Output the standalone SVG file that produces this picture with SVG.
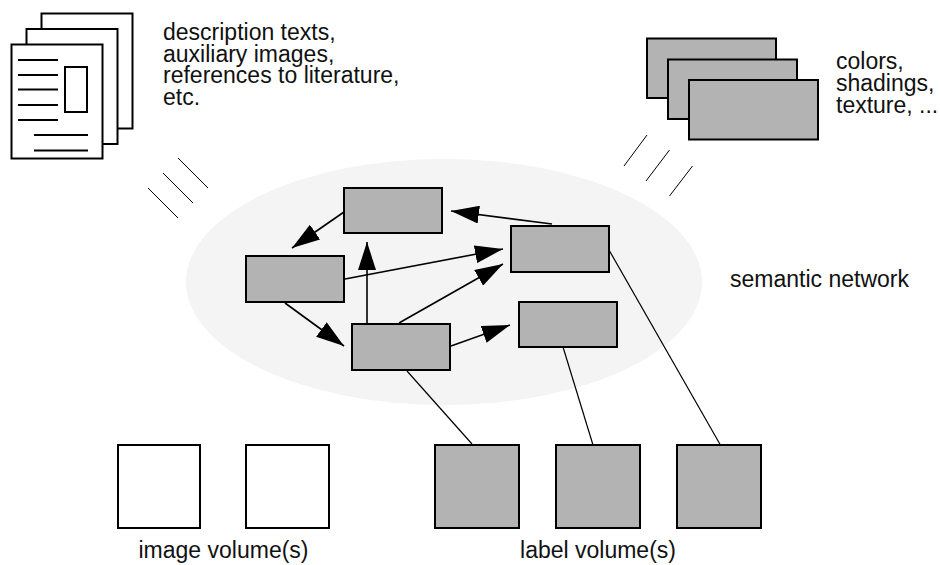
<svg xmlns="http://www.w3.org/2000/svg" width="940" height="565" viewBox="0 0 940 565">
<style>
  .txt { font-family: "Liberation Sans", Arial, sans-serif; font-size: 23px; fill: #111; }
  .page { fill: #fff; stroke: #000; stroke-width: 2; }
  .node { fill: #b3b3b3; stroke: #000; stroke-width: 2; }
  .vol { fill: #fff; stroke: #000; stroke-width: 2; }
  .ln { stroke: #000; stroke-width: 2; fill: none; }
  .hatch { stroke: #000; stroke-width: 1; fill: none; }
  .arrow { stroke: #000; stroke-width: 1.6; fill: none; marker-end: url(#ah); }
  .link { stroke: #000; stroke-width: 1.2; fill: none; }
</style>
<defs>
  <marker id="ah" markerUnits="userSpaceOnUse" markerWidth="28" markerHeight="18" refX="28" refY="9" orient="auto">
    <path d="M0,0 L28,9 L0,18 z" fill="#000"/>
  </marker>
</defs>
<rect width="940" height="565" fill="#fff"/>

<g id="documents">
  <rect class="page" x="41.5" y="13.5" width="91" height="115"/>
  <rect class="page" x="26.5" y="29" width="91" height="115"/>
  <rect class="page" x="11.5" y="44.5" width="91" height="114"/>
  <path class="ln" d="M18,60 H58 M18,75 H58 M18,89.5 H58 M18,105 H58 M18,120 H58 M34,135 H88 M34,150.5 H88"/>
  <rect x="65" y="67" width="22" height="45" fill="none" stroke="#000" stroke-width="2"/>
  <text class="txt" x="163" y="40">description texts,</text>
  <text class="txt" x="163" y="61.5">auxiliary images,</text>
  <text class="txt" x="163" y="83">references to literature,</text>
  <text class="txt" x="163" y="104.5">etc.</text>
  <path class="hatch" d="M178,158 L208,188 M163,173 L193,203 M148,188 L178,218"/>
</g>

<g id="attributes">
  <rect class="node" x="647" y="38.5" width="129" height="59.5"/>
  <rect class="node" x="668" y="59.5" width="129" height="59.5"/>
  <rect class="node" x="689" y="80" width="129" height="59.5"/>
  <text class="txt" x="836" y="68.5">colors,</text>
  <text class="txt" x="836" y="90.5">shadings,</text>
  <text class="txt" x="836" y="112.5">texture, ...</text>
  <path class="hatch" stroke-width="1.3" d="M647,135 L624,166 M669.5,150 L646,181 M692.5,166 L669.5,196"/>
</g>

<g id="semantic-network">
  <ellipse cx="444" cy="282" rx="258" ry="123" fill="#f4f4f4"/>
  <text class="txt" x="730" y="287">semantic network</text>
</g>

<g id="connectors">
  <line class="arrow" x1="344" y1="212" x2="292" y2="248"/>
  <line class="arrow" x1="552" y1="224" x2="451" y2="211"/>
  <line class="arrow" x1="345" y1="279" x2="503" y2="249"/>
  <line class="arrow" stroke-width="2" x1="367" y1="324" x2="367" y2="242"/>
  <line class="arrow" x1="399" y1="323" x2="503" y2="264"/>
  <line class="arrow" x1="285" y1="303" x2="344" y2="346"/>
  <line class="arrow" x1="451" y1="346" x2="510" y2="325"/>
  <line class="link" x1="407" y1="371" x2="472" y2="444"/>
  <line class="link" x1="563" y1="347" x2="593" y2="445"/>
  <line class="link" x1="609" y1="250" x2="721" y2="446"/>
</g>

<g id="node-top"><rect class="node" x="344" y="188" width="98" height="45"/></g>
<g id="node-left"><rect class="node" x="246" y="256" width="98" height="46"/></g>
<g id="node-right"><rect class="node" x="511" y="226" width="98" height="46"/></g>
<g id="node-bottom"><rect class="node" x="352" y="324" width="98" height="46"/></g>
<g id="node-bottom-right"><rect class="node" x="519" y="302" width="98" height="45"/></g>

<g id="image-volumes">
  <rect class="vol" x="118" y="445" width="82" height="83"/>
  <rect class="vol" x="246" y="445" width="83" height="83"/>
  <text class="txt" x="223.5" y="558" text-anchor="middle">image volume(s)</text>
</g>

<g id="label-volumes">
  <rect class="node" x="435" y="445" width="84" height="83"/>
  <rect class="node" x="556" y="445" width="84" height="83"/>
  <rect class="node" x="677" y="445" width="84" height="83"/>
  <text class="txt" x="598" y="558" text-anchor="middle">label volume(s)</text>
</g>
</svg>
